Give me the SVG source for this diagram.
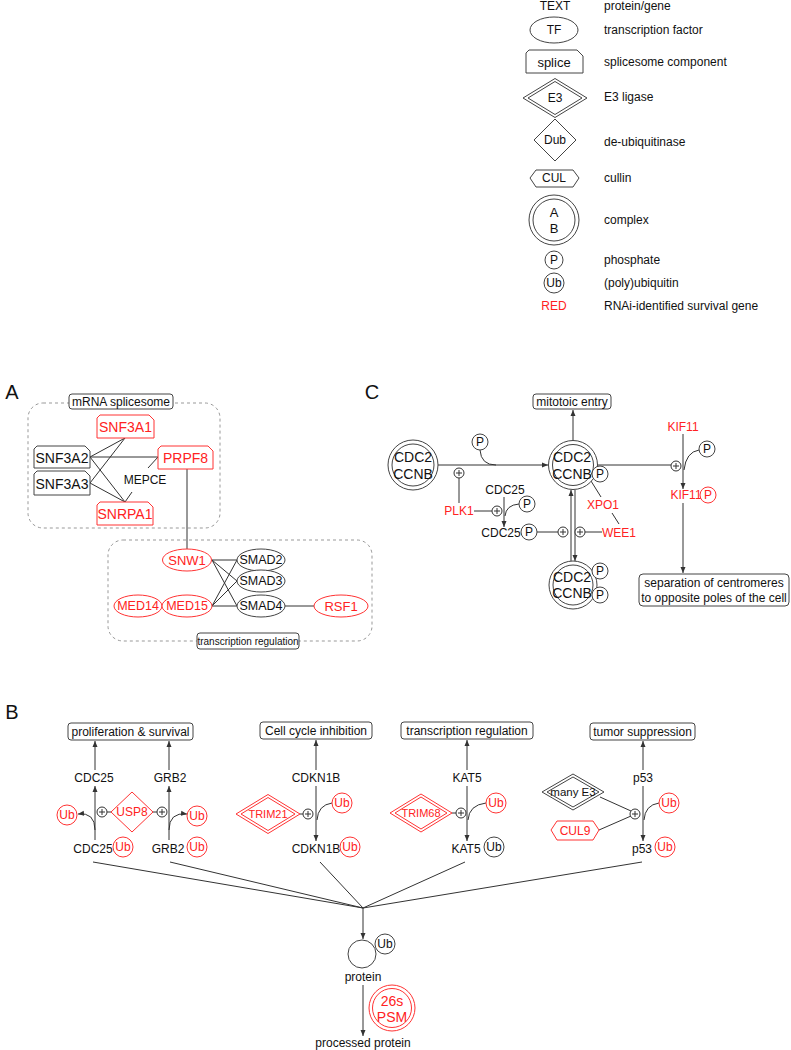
<svg xmlns="http://www.w3.org/2000/svg" width="791" height="1050" viewBox="0 0 791 1050">
<defs>
<style>
text{font-family:"Liberation Sans",Arial,sans-serif;font-size:12px;fill:#111;text-anchor:middle;dominant-baseline:central}
.l{text-anchor:start}
.r{fill:#f22}
.big{font-size:20px}
.c14{font-size:14px}
.c13{font-size:13px}
.c12{font-size:12.5px}
.c11{font-size:11px}
.ln{stroke:#333;stroke-width:1;fill:none}
.box{fill:#fff;stroke:#444;stroke-width:1}
.rbox{fill:#fff;stroke:#f33;stroke-width:1}
.dash{fill:none;stroke:#999;stroke-width:1;stroke-dasharray:3 3}
.pl{fill:#fff;stroke:#333;stroke-width:1}
</style>
<marker id="ar" markerWidth="6" markerHeight="6" refX="6" refY="3" orient="auto" markerUnits="userSpaceOnUse"><path d="M0,0.5 L6,3 L0,5.5 z" fill="#333"/></marker>
<g id="plus"><circle r="5" class="pl"/><path d="M-3,0 H3 M0,-3 V3" stroke="#333" stroke-width="1"/></g>
</defs>

<!-- Legend -->
<g id="legend">
<text x="555" y="6">TEXT</text><text class="l" x="604" y="6">protein/gene</text>
<ellipse cx="554" cy="30" rx="24" ry="13" class="box"/><text x="554" y="30">TF</text><text class="l" x="604" y="30">transcription factor</text>
<path d="M526,53 L529,50 L577,50 L583,56 L583,73 L526,73 Z" class="box"/><text x="554" y="62" class="c13">splice</text><text class="l" x="604" y="62">splicesome component</text>
<polygon points="523,98 555,78.5 587,98 555,117.5" class="box"/><polygon points="528,98 555,81.5 582,98 555,114.5" class="box"/><text x="555" y="98">E3</text><text class="l" x="604" y="97">E3 ligase</text>
<polygon points="534,140 555,119 576,140 555,161" class="box"/><text x="555" y="140">Dub</text><text class="l" x="604" y="142">de-ubiquitinase</text>
<polygon points="530,178 536,170 573,170 579,178 573,187 536,187" class="box"/><text x="554" y="178">CUL</text><text class="l" x="604" y="178">cullin</text>
<circle cx="554" cy="220" r="25" class="box"/><circle cx="554" cy="220" r="21" class="box"/><text x="554" y="212" class="c13">A</text><text x="554" y="228" class="c13">B</text><text class="l" x="604" y="220">complex</text>
<circle cx="554" cy="260" r="9" class="box"/><text x="554" y="260">P</text><text class="l" x="604" y="260">phosphate</text>
<circle cx="554" cy="283" r="10" class="box"/><text x="554" y="283">Ub</text><text class="l" x="604" y="283">(poly)ubiquitin</text>
<text x="554" y="306" class="r">RED</text><text class="l" x="604" y="306">RNAi-identified survival gene</text>
</g>

<!-- Panel A -->
<g id="panelA">
<text x="12" y="392" class="big">A</text>
<rect x="28" y="403" width="192" height="125" rx="15" class="dash"/>
<rect x="108" y="540" width="264" height="101" rx="15" class="dash"/>
<g id="connA">
<path class="ln" d="M90,457 L125,438 M90,457 L158,457 M90,457 L125,502 M90,483 L125,438 M90,483 L125,502 M125,502 L132,492 M148,468 L158,457 M187,469 L187,549"/>
<path class="ln" d="M212,560 L237,560 M212,560 L237,581 M212,560 L237,606 M212,606 L237,560 M212,606 L237,581 M212,606 L237,606 M285,606 L314,606"/>
</g>
<g id="mrna"><rect x="69" y="394" width="104" height="15" rx="3" class="box"/><text x="121" y="401.5">mRNA splicesome</text></g>
<g id="SNF3A1"><path d="M97,418 L100,415 L149,415 L154,420 L154,438 L97,438 Z" class="rbox"/><text x="125.5" y="427" class="c14 r">SNF3A1</text></g>
<g id="SNF3A2"><path d="M34,449 L37,446 L85,446 L90,451 L90,468 L34,468 Z" class="box"/><text x="62" y="457.5" class="c14">SNF3A2</text></g>
<g id="SNF3A3"><path d="M34,474 L37,471 L85,471 L90,476 L90,495 L34,495 Z" class="box"/><text x="62" y="483.5" class="c14">SNF3A3</text></g>
<g id="PRPF8"><path d="M158,449 L161,446 L208,446 L213,451 L213,469 L158,469 Z" class="rbox"/><text x="185.5" y="457.5" class="c14 r">PRPF8</text></g>
<g id="MEPCE"><text x="145" y="480">MEPCE</text></g>
<g id="SNRPA1"><path d="M97,505 L100,502 L148,502 L153,507 L153,525 L97,525 Z" class="rbox"/><text x="125" y="514" class="c14 r">SNRPA1</text></g>
<g id="SNW1"><ellipse cx="187" cy="560" rx="24.5" ry="11" class="rbox"/><text x="187" y="560" class="c13 r">SNW1</text></g>
<g id="SMAD2"><ellipse cx="261" cy="560" rx="24" ry="11" class="box"/><text x="261" y="560" class="c12">SMAD2</text></g>
<g id="SMAD3"><ellipse cx="261" cy="581" rx="24" ry="11" class="box"/><text x="261" y="581" class="c12">SMAD3</text></g>
<g id="SMAD4"><ellipse cx="261" cy="606" rx="24" ry="11" class="box"/><text x="261" y="606" class="c12">SMAD4</text></g>
<g id="MED14"><ellipse cx="138" cy="606" rx="24" ry="11" class="rbox"/><text x="138" y="606" class="c12 r">MED14</text></g>
<g id="MED15"><ellipse cx="187" cy="606" rx="25" ry="11" class="rbox"/><text x="187" y="606" class="c12 r">MED15</text></g>
<g id="RSF1"><ellipse cx="341" cy="606" rx="27" ry="11" class="rbox"/><text x="341" y="606" class="c13 r">RSF1</text></g>
<g id="trA"><rect x="197" y="633" width="102" height="16" rx="3" class="box"/><text x="248" y="641" style="font-size:10px">transcription regulation</text></g>
</g>

<!-- Panel C -->
<g id="panelC">
<text x="372" y="392" class="big">C</text>
<g id="connC">
<path class="ln" d="M438,465 L548,465" marker-end="url(#ar)"/>
<path class="ln" d="M480,450 Q481,465 496,465"/>
<path class="ln" d="M573,441 L573,410" marker-end="url(#ar)"/>
<path class="ln" d="M597,465 L671,465"/>
<path class="ln" d="M683,434 L683,489" marker-end="url(#ar)"/>
<path class="ln" d="M699,450 Q686,452 684,470"/>
<path class="ln" d="M683,503 L683,573" marker-end="url(#ar)"/>
<path class="ln" d="M459,503 L459,478 M474,511 L492,511"/>
<path class="ln" d="M504,497 L504,527" marker-end="url(#ar)"/>
<path class="ln" d="M519,504 Q506,505 505,516"/>
<path class="ln" d="M537,532 L558,532 M585,532 L602,532"/>
<path class="ln" d="M571,561 L571,490" marker-end="url(#ar)"/>
<path class="ln" d="M575,490 L575,561" marker-end="url(#ar)"/>
<path class="ln" d="M591,481 L601,497 M612,513 L619,524"/>
</g>
<g id="mitotic"><rect x="533" y="394" width="78" height="15" rx="3" class="box"/><text x="572" y="401.5">mitotoic entry</text></g>
<g id="cplx1"><circle cx="413" cy="465" r="25" class="box"/><circle cx="413" cy="465" r="21" class="box"/><text x="413" y="457" class="c14">CDC2</text><text x="413" y="474" class="c14">CCNB</text></g>
<g id="P1"><circle cx="480" cy="442" r="8" class="box"/><text x="480" y="442">P</text></g>
<g id="cplx2"><circle cx="573" cy="465" r="24.5" class="box"/><circle cx="573" cy="465" r="20.5" class="box"/><text x="572" y="457" class="c14">CDC2</text><text x="572" y="474" class="c14">CCNB</text><circle cx="600" cy="474" r="8" class="box"/><text x="600" y="474">P</text></g>
<g id="plusC1"><use href="#plus" x="459" y="473"/></g>
<g id="PLK1"><text x="459" y="511" class="r">PLK1</text></g>
<g id="plusC2"><use href="#plus" x="497" y="511"/></g>
<g id="CDC25a"><text x="505" y="490">CDC25</text></g>
<g id="P2"><circle cx="527" cy="504" r="8" class="box"/><text x="527" y="504">P</text></g>
<g id="CDC25P"><text x="501" y="533">CDC25</text><circle cx="529" cy="532" r="8" class="box"/><text x="529" y="532">P</text></g>
<g id="plusC3"><use href="#plus" x="563" y="532"/></g>
<g id="plusC4"><use href="#plus" x="580" y="532"/></g>
<g id="WEE1"><text x="619" y="533" class="r">WEE1</text></g>
<g id="XPO1"><text x="603" y="505" class="r">XPO1</text></g>
<g id="cplx3"><circle cx="573" cy="585" r="24" class="box"/><circle cx="573" cy="585" r="20" class="box"/><text x="572" y="577" class="c14">CDC2</text><text x="572" y="593" class="c14">CCNB</text><circle cx="600" cy="571" r="8" class="box"/><text x="600" y="571">P</text><circle cx="600" cy="595" r="8" class="box"/><text x="600" y="595">P</text></g>
<g id="plusC5"><use href="#plus" x="676" y="466"/></g>
<g id="KIF11"><text x="683" y="427" class="r">KIF11</text></g>
<g id="P3"><circle cx="707" cy="449" r="8" class="box"/><text x="707" y="449">P</text></g>
<g id="KIF11P"><text x="686" y="495" class="r">KIF11</text><circle cx="708" cy="495" r="8" class="rbox"/><text x="708" y="495" class="r">P</text></g>
<g id="sep"><rect x="639" y="574" width="150" height="32" rx="4" class="box"/><text x="714" y="583">separation of centromeres</text><text x="714" y="598">to opposite poles of the cell</text></g>
</g>

<!-- Panel B -->
<g id="panelB">
<text x="12" y="712" class="big">B</text>
<g id="connB">
<path class="ln" d="M95,840 L95,786" marker-end="url(#ar)"/>
<path class="ln" d="M95,770 L95,741" marker-end="url(#ar)"/>
<path class="ln" d="M169,840 L169,786" marker-end="url(#ar)"/>
<path class="ln" d="M169,770 L169,741" marker-end="url(#ar)"/>
<path class="ln" d="M95,830 Q95,812 78,814" marker-end="url(#ar)"/>
<path class="ln" d="M169,830 Q169,812 187,814" marker-end="url(#ar)"/>
<path class="ln" d="M107,812 L111,812 M153,812 L157,812"/>
<path class="ln" d="M316,786 L316,841" marker-end="url(#ar)"/>
<path class="ln" d="M316,770 L316,740" marker-end="url(#ar)"/>
<path class="ln" d="M332,803 Q318,805 317,820 M300,814 L303,814"/>
<path class="ln" d="M467,786 L467,841" marker-end="url(#ar)"/>
<path class="ln" d="M467,770 L467,740" marker-end="url(#ar)"/>
<path class="ln" d="M486,803 Q469,805 468,820 M452,813 L456,813"/>
<path class="ln" d="M643,786 L643,841" marker-end="url(#ar)"/>
<path class="ln" d="M643,770 L643,741" marker-end="url(#ar)"/>
<path class="ln" d="M659,803 Q645,805 644,820 M600,797 L631,811 M599,830 L631,816"/>
<path class="ln" d="M93,862 L363,908 M170,862 L363,908 M320,862 L363,908 M465,862 L363,908 M642,862 L363,908"/>
<path class="ln" d="M363,908 L363,939" marker-end="url(#ar)"/>
<path class="ln" d="M363,985 L363,1036" marker-end="url(#ar)"/>
</g>
<g id="prolif"><rect x="68" y="723" width="125" height="17" rx="3" class="box"/><text x="130.5" y="731.5">proliferation &amp; survival</text></g>
<g id="cellcycle"><rect x="260" y="722" width="112" height="17" rx="3" class="box"/><text x="316" y="730.5">Cell cycle inhibition</text></g>
<g id="transB"><rect x="401" y="722" width="132" height="17" rx="3" class="box"/><text x="467" y="730.5">transcription regulation</text></g>
<g id="tumor"><rect x="590" y="723" width="105" height="17" rx="3" class="box"/><text x="642.5" y="731.5">tumor suppression</text></g>

<g id="CDC25top"><text x="94" y="778">CDC25</text></g>
<g id="GRB2top"><text x="170" y="778">GRB2</text></g>
<g id="UbL"><circle cx="67" cy="815" r="10" class="rbox"/><text x="67" y="815" class="r">Ub</text></g>
<g id="plusB1"><use href="#plus" x="102" y="812"/></g>
<g id="USP8"><polygon points="111,812 132,792 153,812 132,832" class="rbox"/><text x="132" y="812" class="r">USP8</text></g>
<g id="plusB2"><use href="#plus" x="162" y="812"/></g>
<g id="UbR"><circle cx="197" cy="816" r="10" class="rbox"/><text x="197" y="816" class="r">Ub</text></g>
<g id="CDC25Ub"><text x="93" y="849">CDC25</text><circle cx="123" cy="847" r="10" class="rbox"/><text x="123" y="847" class="r">Ub</text></g>
<g id="GRB2Ub"><text x="168" y="849">GRB2</text><circle cx="197" cy="847" r="10" class="rbox"/><text x="197" y="847" class="r">Ub</text></g>

<g id="CDKN1Btop"><text x="316" y="778">CDKN1B</text></g>
<g id="TRIM21"><polygon points="236,814 268,794.5 300,814 268,833.5" class="rbox"/><polygon points="241,814 268,797.5 295,814 268,830.5" class="rbox"/><text x="268" y="814" class="c11 r">TRIM21</text></g>
<g id="plusB3"><use href="#plus" x="308" y="814"/></g>
<g id="UbC"><circle cx="342" cy="803" r="10" class="rbox"/><text x="342" y="803" class="r">Ub</text></g>
<g id="CDKN1BUb"><text x="316" y="849">CDKN1B</text><circle cx="350" cy="847" r="10" class="rbox"/><text x="350" y="847" class="r">Ub</text></g>

<g id="KAT5top"><text x="467" y="778">KAT5</text></g>
<g id="TRIM68"><polygon points="390,813 421,794 452,813 421,832" class="rbox"/><polygon points="395,813 421,797 447,813 421,829" class="rbox"/><text x="421" y="813" class="c11 r">TRIM68</text></g>
<g id="plusB4"><use href="#plus" x="461" y="813"/></g>
<g id="UbK"><circle cx="496" cy="803" r="10" class="rbox"/><text x="496" y="803" class="r">Ub</text></g>
<g id="KAT5Ub"><text x="466" y="849">KAT5</text><circle cx="494" cy="847" r="10" class="box"/><text x="494" y="847">Ub</text></g>

<g id="p53top"><text x="643" y="778">p53</text></g>
<g id="manyE3"><polygon points="542,792 573,774 604,792 573,810" class="box"/><polygon points="547,792 573,777 599,792 573,807" class="box"/><text x="573" y="792" style="font-size:11.5px">many E3</text></g>
<g id="CUL9"><polygon points="551,830 557,821 593,821 599,830 593,840 557,840" class="rbox"/><text x="575" y="830.5" class="r">CUL9</text></g>
<g id="plusB5"><use href="#plus" x="635" y="814"/></g>
<g id="UbP"><circle cx="669" cy="803" r="10" class="rbox"/><text x="669" y="803" class="r">Ub</text></g>
<g id="p53Ub"><text x="642" y="849">p53</text><circle cx="665" cy="847" r="10" class="rbox"/><text x="665" y="847" class="r">Ub</text></g>

<g id="protein"><circle cx="362" cy="954" r="14" class="box"/><circle cx="385" cy="944" r="10" class="box"/><text x="385" y="944">Ub</text><text x="363" y="977">protein</text></g>
<g id="PSM"><circle cx="392" cy="1008" r="23" class="rbox"/><circle cx="392" cy="1008" r="19.5" class="rbox"/><text x="392" y="1001" class="c14 r">26s</text><text x="392" y="1017" class="c14 r">PSM</text></g>
<g id="processed"><text x="363" y="1043">processed protein</text></g>
</g>
</svg>
